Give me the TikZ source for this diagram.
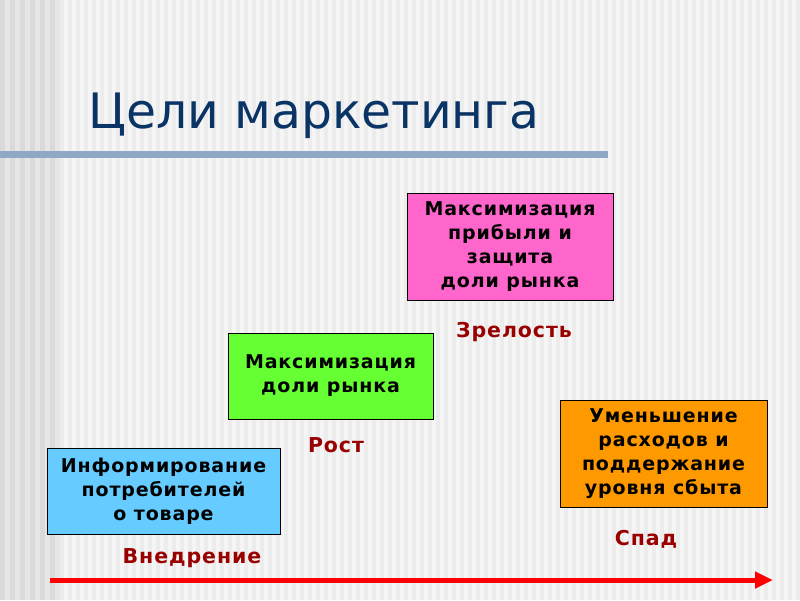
\documentclass[tikz,border=0pt]{standalone}
\usepackage{fontspec}
\setmainfont{DejaVu Sans}
\usetikzlibrary{arrows.meta}
\definecolor{bgmain}{HTML}{F5F5F5}
\definecolor{bgstripe}{HTML}{ECECEC}
\definecolor{bgleft}{HTML}{E6E6E6}
\definecolor{bgleftstripe}{HTML}{DADADA}
\definecolor{titleblue}{HTML}{0A3366}
\definecolor{ruleblue}{HTML}{8FA8C6}
\definecolor{boxblue}{HTML}{66CCFF}
\definecolor{boxgreen}{HTML}{66FF33}
\definecolor{boxpink}{HTML}{FF66CC}
\definecolor{boxorange}{HTML}{FF9900}
\definecolor{stagered}{HTML}{990000}
\definecolor{arrowred}{HTML}{FF0000}
\newfontfamily\spacedfont[LetterSpace=4.5]{DejaVu Sans}
\tikzset{
  goalbox/.style={draw=black, line width=1pt, inner sep=0pt, align=center,
    font=\spacedfont\bfseries\fontsize{19}{24}\selectfont, text=black},
  stagelabel/.style={inner sep=0pt, font=\spacedfont\bfseries\fontsize{20.5}{24}\selectfont, text=stagered},
}
\begin{document}
\begin{tikzpicture}[x=1pt,y=-1pt]
\useasboundingbox (0,0) rectangle (800,600);
\fill[bgmain] (0,0) rectangle (800,600);
\foreach \i in {0,...,92} {\fill[bgstripe] (60+\i*8,0) rectangle ++(4,600);}
\fill[bgleft] (0,0) rectangle (60,600);
\foreach \i in {0,...,5} {\fill[bgleftstripe] (\i*10,0) rectangle ++(5,600);}
% title
\node[anchor=base west, inner sep=0pt, text=titleblue, font=\fontsize{48.8}{56}\selectfont] (title) at (88,128) {Цели маркетинга};
\fill[ruleblue] (0,151) rectangle (608,158);
% boxes
\node[goalbox, fill=boxblue, minimum width=233pt, minimum height=86pt] (intro) at (163.5,491) {Информирование\\потребителей\\о товаре};
\node[goalbox, fill=boxgreen, minimum width=205pt, minimum height=86pt] (growth) at (330.5,376) {Максимизация\\доли рынка};
\node[goalbox, fill=boxpink, minimum width=206pt, minimum height=107pt] (mature) at (510,246.5) {Максимизация\\прибыли и\\защита\\доли рынка};
\node[goalbox, fill=boxorange, minimum width=207pt, minimum height=107pt] (decline) at (663.5,453.5) {Уменьшение\\расходов и\\поддержание\\уровня сбыта};
% stage labels
\node[stagelabel] (lintro) at (192,558) {Внедрение};
\node[stagelabel] (lgrowth) at (336,445) {Рост};
\node[stagelabel] (lmature) at (514,332) {Зрелость};
\node[stagelabel] (ldecline) at (646,539) {Спад};
% arrow
\coordinate (astart) at (50,580);
\coordinate (aend) at (773,580);
\draw[arrowred, line width=5pt, -{Triangle[length=18pt,width=16pt]}] (astart) -- (aend);
\end{tikzpicture}
\end{document}
